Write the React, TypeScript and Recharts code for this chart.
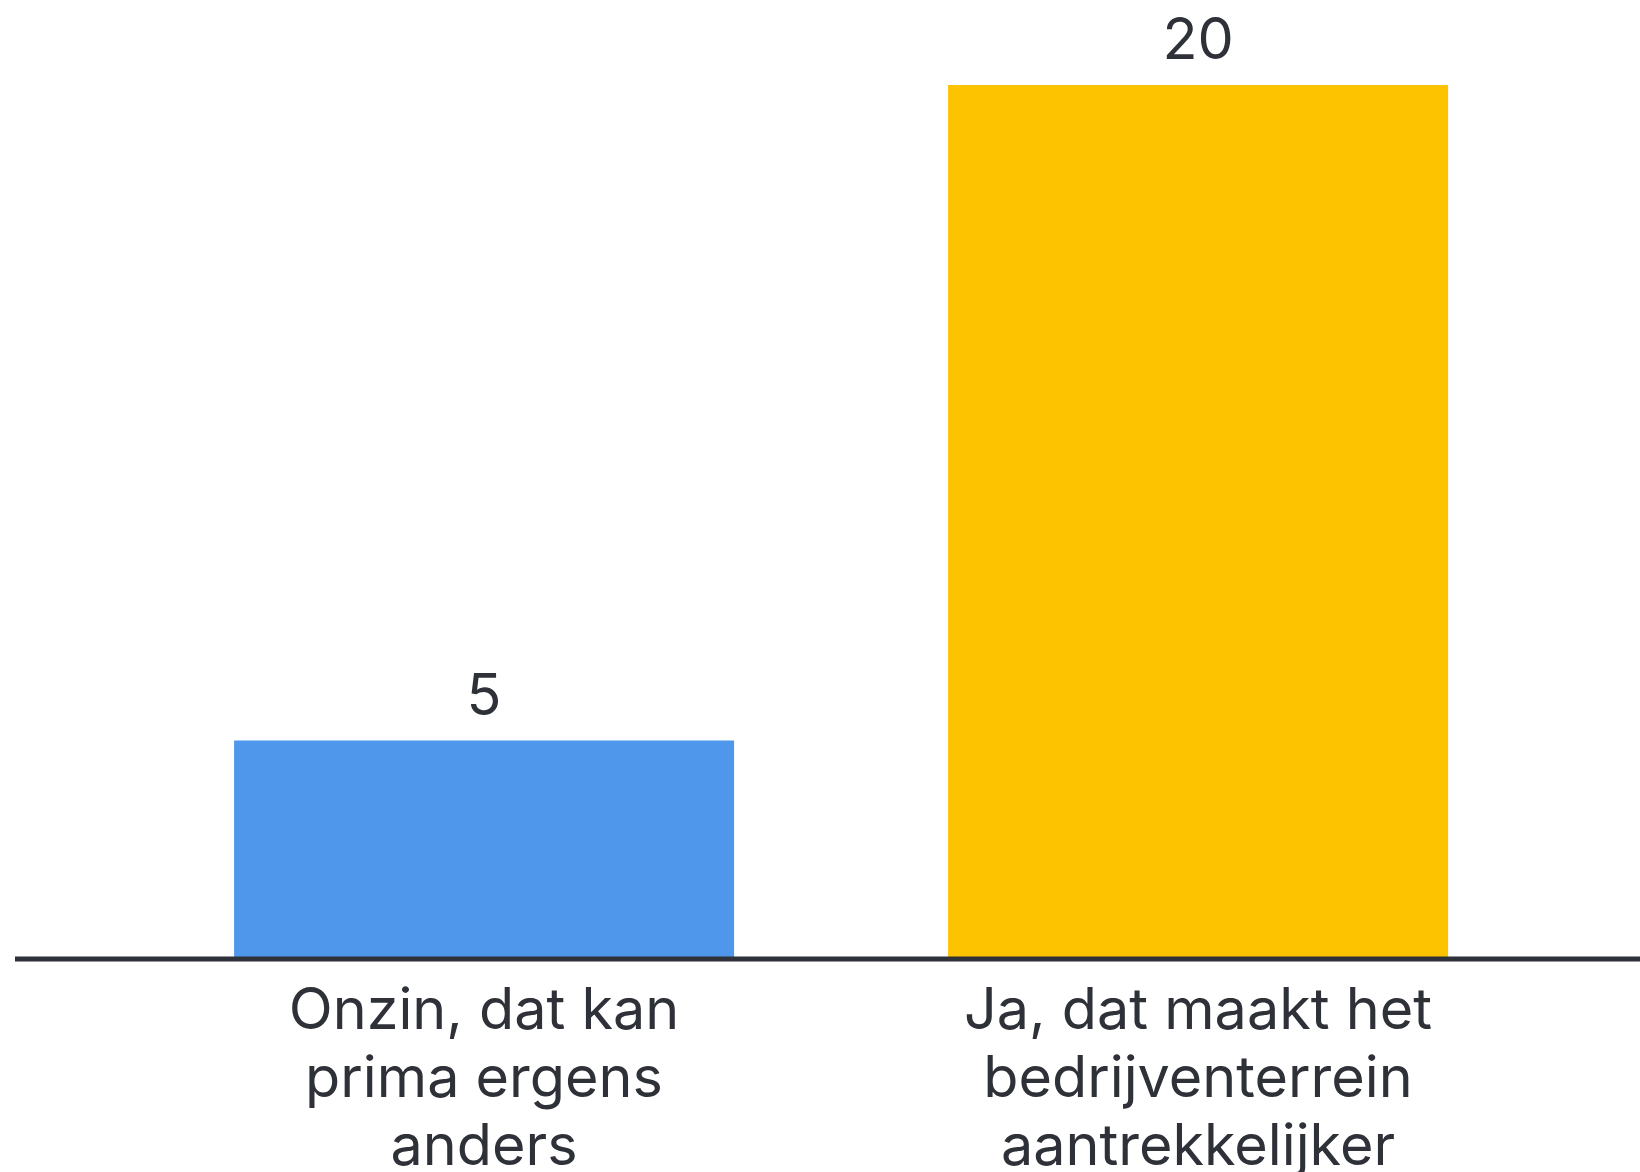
import React from "react";
import { BarChart, Bar, XAxis, YAxis, Cell, LabelList } from "recharts";

const categories = ["Onzin, dat kan prima ergens anders", "Ja, dat maakt het bedrijventerrein aantrekkelijker"];
const categoryLines = [
  ["Onzin, dat kan", "prima ergens", "anders"],
  ["Ja, dat maakt het", "bedrijventerrein", "aantrekkelijker"],
];
const values = [5, 20];
const colors = ["#4f97ea", "#fdc300"];

const data = categories.map((c, i) => ({ name: c, value: values[i], idx: i }));

const FONT = "Inter, 'Noto Sans', sans-serif";

const Tick = (props: any) => {
  const { x, y, index } = props;
  const lines = categoryLines[index] || [];
  return (
    <g>
      {lines.map((l: string, i: number) => (
        <text
          key={i}
          x={x}
          y={y + 62 + i * 68}
          textAnchor="middle"
          fill="#2e3138"
          fontSize={57.5}
          fontFamily={FONT}
        >
          {l}
        </text>
      ))}
    </g>
  );
};

export default function App() {
  return (
    <div style={{ width: 1640, height: 1172, background: "#fff", overflow: "hidden" }}>
      <style>{`html,body{margin:0;padding:0;overflow:hidden;}`}</style>
      <BarChart
        width={1640}
        height={1172}
        data={data}
        margin={{ top: 85, right: 0, bottom: 0, left: 15 }}
        barCategoryGap="15%"
      >
        <YAxis hide domain={[0, 20]} />
        <XAxis
          dataKey="name"
          height={213}
          padding={{ left: 112, right: 85 }}
          axisLine={{ stroke: "#2e3138", strokeWidth: 5 }}
          tickLine={false}
          interval={0}
          tick={<Tick />}
        />
        <Bar dataKey="value" isAnimationActive={false}>
          {data.map((d, i) => (
            <Cell key={i} fill={colors[i]} />
          ))}
          <LabelList
            dataKey="value"
            position="top"
            offset={26}
            fill="#2e3138"
            fontSize={57.5}
            fontFamily={FONT}
          />
        </Bar>
      </BarChart>
    </div>
  );
}
